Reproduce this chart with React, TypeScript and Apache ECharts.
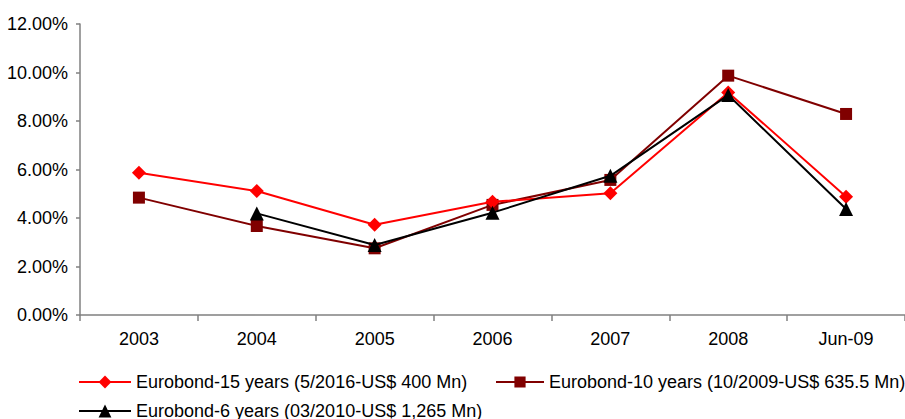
import React, { useEffect, useRef } from "react";
import * as echarts from "echarts";

const categories = ["2003", "2004", "2005", "2006", "2007", "2008", "Jun-09"];
const seriesNames = [
  "Eurobond-15 years (5/2016-US$ 400 Mn)",
  "Eurobond-10 years (10/2009-US$ 635.5 Mn)",
  "Eurobond-6 years (03/2010-US$ 1,265 Mn)",
];
const euro15 = [5.87, 5.11, 3.72, 4.67, 5.02, 9.18, 4.88];
const euro10 = [4.84, 3.67, 2.75, 4.54, 5.57, 9.87, 8.29];
const euro6 = [null, 4.19, 2.89, 4.22, 5.74, 9.07, 4.37];
const yTicks = { min: 0, max: 12, interval: 2 };

const FONT = "'Liberation Sans', Arial, sans-serif";

export default function App() {
  const ref = useRef<HTMLDivElement>(null);
  useEffect(() => {
    if (!ref.current) return;
    const chart = echarts.init(ref.current, undefined, { renderer: "svg" });
    const legendText = { fontSize: 18, color: "#000", fontFamily: FONT };
    chart.setOption({
      animation: false,
      textStyle: { fontFamily: FONT },
      grid: { left: 80, top: 24, width: 826, height: 291, containLabel: false },
      legend: [
        { data: [seriesNames[0]], left: 78, top: 373, itemWidth: 52, itemHeight: 16, textStyle: legendText, padding: 0 },
        { data: [seriesNames[1]], left: 495, top: 373, itemWidth: 48, itemHeight: 14, textStyle: legendText, padding: 0 },
        { data: [seriesNames[2]], left: 78, top: 402, itemWidth: 52, itemHeight: 16, textStyle: legendText, padding: 0 },
      ],
      xAxis: {
        type: "category",
        data: categories,
        boundaryGap: true,
        axisLine: { lineStyle: { color: "#808080", width: 1.5 } },
        axisTick: { show: true, length: 6, interval: 0, lineStyle: { color: "#808080", width: 1.5 } },
        axisLabel: { fontSize: 18, color: "#000", margin: 15, fontFamily: FONT },
        splitLine: { show: false },
      },
      yAxis: {
        type: "value",
        min: yTicks.min,
        max: yTicks.max,
        interval: yTicks.interval,
        axisLine: { show: true, lineStyle: { color: "#808080", width: 1.5 } },
        axisTick: { show: true, length: 4, lineStyle: { color: "#808080", width: 1.5 } },
        axisLabel: {
          fontSize: 18,
          color: "#000",
          margin: 12,
          fontFamily: FONT,
          formatter: (v: number) => v.toFixed(2) + "%",
        },
        splitLine: { show: false },
      },
      series: [
        {
          name: seriesNames[0],
          type: "line",
          data: euro15,
          symbol: "diamond",
          symbolSize: 14,
          itemStyle: { color: "#FF0000" },
          lineStyle: { color: "#FF0000", width: 2 },
          z: 3,
        },
        {
          name: seriesNames[1],
          type: "line",
          data: euro10,
          symbol: "rect",
          symbolSize: 12,
          itemStyle: { color: "#800000" },
          lineStyle: { color: "#800000", width: 2 },
          z: 2,
        },
        {
          name: seriesNames[2],
          type: "line",
          data: euro6,
          symbol: "triangle",
          symbolSize: 14,
          itemStyle: { color: "#000000" },
          lineStyle: { color: "#000000", width: 2 },
          z: 4,
        },
      ],
    });
    return () => chart.dispose();
  }, []);
  return (
    <div
      ref={ref}
      style={{ position: "absolute", left: 0, top: 0, width: 905, height: 419, background: "#fff" }}
    />
  );
}
